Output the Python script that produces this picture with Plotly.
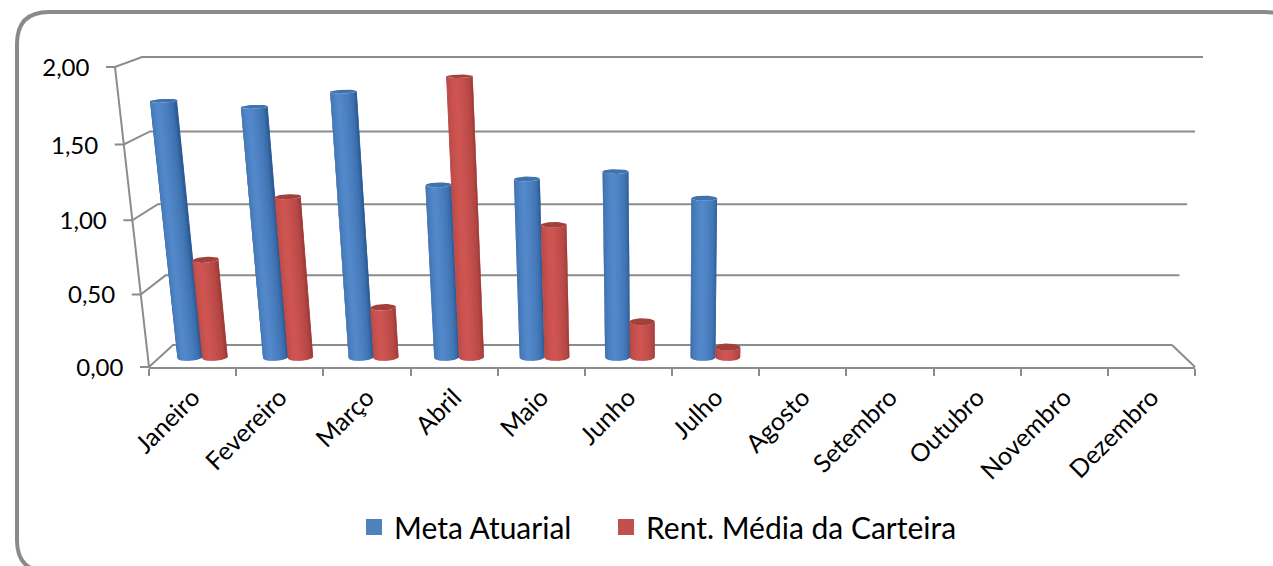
import math
import plotly.graph_objects as go

meses = ["Janeiro", "Fevereiro", "Março", "Abril", "Maio", "Junho", "Julho",
         "Agosto", "Setembro", "Outubro", "Novembro", "Dezembro"]
meta_atuarial = [1.75, 1.71, 1.81, 1.19, 1.23, 1.28, 1.10]
rent_media = [0.68, 1.11, 0.35, 1.91, 0.92, 0.25, 0.07]
y_ticks = [0.0, 0.5, 1.0, 1.5, 2.0]
y_tick_labels = ["0,00", "0,50", "1,00", "1,50", "2,00"]

W, H = 1273, 566
X0, X1, Y0, Y2 = 149, 1195, 367, 67
UNIT_X = (X1 - X0) / 12
UNIT_Y = (Y0 - Y2) / 2
GRID = "#8c8c8c"
FONT = "Lato"


def project(u, v, d):
    """Perspective of the 3-D box: category position, value, depth -> full-figure axis units."""
    t = v / 2
    f = t / (1 + 0.045 * (1 - t))
    yf, yb = 367 - 300 * f, 345 - 288 * f
    lf, lb = 149 - 34 * f, 173 - 31 * f
    rf, rb = 1195 + 35 * f, 1172 + 31 * f
    py = yf + (yb - yf) * d
    left = lf + (lb - lf) * d
    right = rf + (rb - rf) * d
    px = left + (right - left) * u / 12
    return (px - X0) / UNIT_X, (Y0 - py) / UNIT_Y


fig = go.Figure()

fig.add_trace(go.Scatter(x=[0, 12], y=[0, 0], mode="lines", line=dict(width=0, color="rgba(0,0,0,0)"),
                         hoverinfo="skip", showlegend=False, xaxis="x", yaxis="y"))


def add_line(xs, ys, width=2):
    fig.add_trace(go.Scatter(x=xs, y=ys, mode="lines", line=dict(color=GRID, width=width),
                             hoverinfo="skip", showlegend=False, xaxis="x2", yaxis="y2"))


tick_px = 9 / UNIT_X
for v in y_ticks:
    a = project(0, v, 0)
    b = project(0, v, 1)
    c = project(12, v, 1)
    add_line([a[0] - tick_px, a[0], b[0], c[0]], [a[1], a[1], b[1], c[1]])
a0 = project(0, 0, 0)
a2 = project(0, 2, 0)
add_line([a0[0], a2[0]], [a0[1], a2[1]])
c0 = project(12, 0, 1)
c1 = project(12, 0, 0)
add_line([c0[0], c1[0]], [c0[1], c1[1]])

lab_x, lab_y = [], []
for v in y_ticks:
    a = project(0, v, 0)
    lab_x.append(a[0] - tick_px - 0.19)
    lab_y.append(a[1] - 3 / UNIT_Y)
fig.add_trace(go.Scatter(x=lab_x, y=lab_y, mode="text", text=y_tick_labels, textposition="middle left",
                         textfont=dict(family=FONT, size=24, color="#000000"),
                         hoverinfo="skip", showlegend=False, xaxis="x2", yaxis="y2", cliponaxis=False))


def mix(c1, c2, k):
    return "rgb(%d,%d,%d)" % tuple(round(p + (q - p) * k) for p, q in zip(c1, c2))


DEPTH, DEPTH_R, RAD = 0.45, 0.17, 0.146
N = 16


def add_cylinders(values, offset, edge, mid, cap):
    for i in range(N):
        th1 = math.pi * (1 - i / N)
        th2 = max(0.0, math.pi * (1 - (i + 1.6) / N))
        pos = (i + 0.5) / N
        k = max(0.0, 1 - abs(pos - 0.45) / 0.45) ** 0.6
        xs, ys = [], []
        for j, val in enumerate(values):
            u = j + offset
            pts = [(th1, 0), (th2, 0), (th2, val), (th1, val), (th1, 0)]
            for th, vv in pts:
                p = project(u + RAD * math.cos(th), vv, DEPTH - DEPTH_R * math.sin(th))
                xs.append(p[0])
                ys.append(p[1])
            xs.append(None)
            ys.append(None)
        col = mix(edge, mid, k)
        fig.add_trace(go.Scatter(x=xs, y=ys, mode="lines", fill="toself", fillcolor=col,
                                 line=dict(color=col, width=0), hoverinfo="skip",
                                 showlegend=False, xaxis="x2", yaxis="y2"))
    xs, ys = [], []
    for j, val in enumerate(values):
        u = j + offset
        for s in range(37):
            th = 2 * math.pi * s / 36
            p = project(u + RAD * math.cos(th), val, DEPTH - DEPTH_R * math.sin(th))
            xs.append(p[0])
            ys.append(p[1])
        xs.append(None)
        ys.append(None)
    fig.add_trace(go.Scatter(x=xs, y=ys, mode="lines", fill="toself", fillcolor=cap,
                             line=dict(color=cap, width=0), hoverinfo="skip",
                             showlegend=False, xaxis="x2", yaxis="y2"))


add_cylinders(meta_atuarial, 0.36, (44, 92, 152), (84, 138, 204), "#3f73ae")
add_cylinders(rent_media, 0.65, (160, 60, 57), (208, 86, 83), "#a53f3c")

for name, col, leg in [("Meta Atuarial", "#4F81BD", "legend"), ("Rent. Média da Carteira", "#C0504D", "legend2")]:
    fig.add_trace(go.Scatter(x=[None], y=[None], mode="markers", name=name, legend=leg,
                             marker=dict(symbol="square", size=18, color=col),
                             xaxis="x2", yaxis="y2"))

L, T, R, B, C = 17, 12, 1297, 572, 32


def fx(p):
    return p / W


def fy(p):
    return 1 - p / H


frame = (f"M {fx(L)},{fy(T + C)} Q {fx(L)},{fy(T)} {fx(L + C)},{fy(T)} L {fx(R - C)},{fy(T)} "
         f"Q {fx(R)},{fy(T)} {fx(R)},{fy(T + C)} L {fx(R)},{fy(B - C)} Q {fx(R)},{fy(B)} {fx(R - C)},{fy(B)} "
         f"L {fx(L + C)},{fy(B)} Q {fx(L)},{fy(B)} {fx(L)},{fy(B - C)} Z")

legend_common = dict(orientation="h", xanchor="left", yanchor="top", y=1 - 501 / H,
                     font=dict(family=FONT, size=30, color="#000000"),
                     bgcolor="rgba(0,0,0,0)", itemclick=False, itemdoubleclick=False)

fig.update_layout(
    width=W, height=H, autosize=False,
    margin=dict(l=0, r=0, t=0, b=0, autoexpand=False),
    paper_bgcolor="#ffffff", plot_bgcolor="rgba(0,0,0,0)",
    font=dict(family=FONT, color="#000000"),
    separators=",.",
    shapes=[dict(type="path", path=frame, xref="paper", yref="paper", layer="below",
                 line=dict(color="#8a8a8a", width=4), fillcolor="#ffffff")],
    xaxis=dict(domain=[X0 / W, X1 / W], range=[0, 12], anchor="y", automargin=False,
               tickmode="array", tickvals=[i + 0.5 for i in range(12)], ticktext=meses,
               tickangle=-45, ticks="", ticklabelstandoff=4,
               tickfont=dict(family=FONT, size=25, color="#000000"),
               showgrid=False, zeroline=False, showline=True, linecolor=GRID, linewidth=2,
               minor=dict(tickmode="array", tickvals=list(range(13)), ticks="outside",
                          ticklen=7, tickwidth=2, tickcolor=GRID, showgrid=False)),
    yaxis=dict(domain=[1 - Y0 / H, 1 - Y2 / H], range=[0, 2], anchor="x", visible=False, automargin=False),
    xaxis2=dict(domain=[0, 1], range=[-X0 / UNIT_X, (W - X0) / UNIT_X], anchor="y2", visible=False, automargin=False),
    yaxis2=dict(domain=[0, 1], range=[(Y0 - H) / UNIT_Y, Y0 / UNIT_Y], anchor="x2", visible=False, automargin=False),
    showlegend=True,
    legend=dict(x=354 / W, **legend_common),
    legend2=dict(x=606 / W, **legend_common),
)

fig.write_html("out.html", config=dict(displayModeBar=False),
               post_script="document.documentElement.style.overflow='hidden';document.body.style.margin='0';window.dispatchEvent(new Event('resize'));")
